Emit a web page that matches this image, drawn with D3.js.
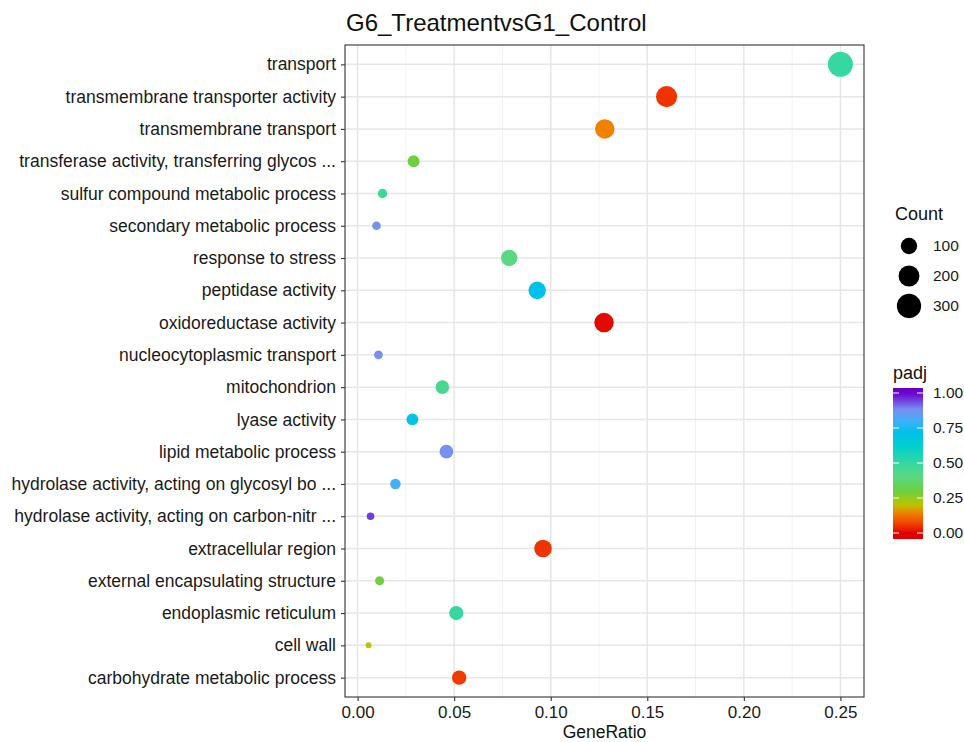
<!DOCTYPE html>
<html lang="en">
  <head>
    <meta charset="utf-8">
    <title>G6_TreatmentvsG1_Control</title>
    <script src="https://d3js.org/d3.v7.min.js"></script>
    <style>
      body { margin: 0; background: #fff; }
      text { font-family: "Liberation Sans", Arial, sans-serif; }
    </style>
  </head>
  <body>
    <script type="text/javascript">
    let w = 964;
    let h = 742;

    // DATA (top to bottom as drawn)
    let terms = ["transport", "transmembrane transporter activity", "transmembrane transport",
                 "transferase activity, transferring glycos ...", "sulfur compound metabolic process",
                 "secondary metabolic process", "response to stress", "peptidase activity",
                 "oxidoreductase activity", "nucleocytoplasmic transport", "mitochondrion",
                 "lyase activity", "lipid metabolic process",
                 "hydrolase activity, acting on glycosyl bo ...",
                 "hydrolase activity, acting on carbon-nitr ...", "extracellular region",
                 "external encapsulating structure", "endoplasmic reticulum", "cell wall",
                 "carbohydrate metabolic process"];
    let geneRatio = [0.250, 0.160, 0.128, 0.029, 0.0129, 0.0098, 0.0785, 0.093, 0.1276, 0.0108,
                     0.0439, 0.0284, 0.046, 0.0196, 0.0067, 0.096, 0.0114, 0.0511, 0.0057, 0.0526];
    let counts = [322, 206, 165, 37, 17, 13, 101, 120, 165, 14,
                  57, 37, 59, 25, 9, 124, 15, 66, 7, 68];
    let padj = [0.50, 0.05, 0.14, 0.30, 0.48, 0.88, 0.40, 0.72, 0.01, 0.88,
                0.45, 0.70, 0.88, 0.80, 0.95, 0.05, 0.30, 0.50, 0.20, 0.06];

    let xTicks = [0, 0.05, 0.10, 0.15, 0.20, 0.25];
    let countTicks = [100, 200, 300];
    let padjTicks = [0, 0.25, 0.5, 0.75, 1];

    // colour ramp for padj
    let rampStops = [0, 0.05, 0.14, 0.2, 0.3, 0.4, 0.5, 0.62, 0.72, 0.8, 0.88, 1];
    let rampColors = ["#e00000", "#f03400", "#f08000", "#bcc400", "#6cd040", "#5cd880", "#34d8a0",
                      "#00d0d0", "#00c0ec", "#40b0f8", "#7890f0", "#6a00d0"];

    let data = terms.map((t, i) => ({term: t, ratio: geneRatio[i], count: counts[i], padj: padj[i]}));

    let pLeft = 345, pRight = 864, pTop = 45, pBottom = 697;

    let svg = d3.select("body")
                .append("svg")
                .attr("width", w)
                .attr("height", h);

    // scales (5% expansion like ggplot)
    let xMin = d3.min(geneRatio), xMax = d3.max(geneRatio);
    let pad = (xMax - xMin) * 0.05;
    let xScale = d3.scaleLinear()
                   .domain([xMin - pad, xMax + pad])
                   .range([pLeft, pRight]);

    let yScale = d3.scalePoint()
                   .domain(terms)
                   .range([pTop, pBottom])
                   .padding(0.6);

    let cMin = d3.min(counts), cMax = d3.max(counts);
    let rScale = d3.scaleSqrt()
                   .domain([0, cMax - cMin])
                   .range([3, 12.5]);
    let r = c => rScale(c - cMin);

    let color = d3.scaleLinear()
                  .domain(rampStops)
                  .range(rampColors)
                  .interpolate(d3.interpolateRgb);

    // panel grid
    let grid = svg.append("g");
    let minor = d3.range(0.025, 0.26, 0.05);
    grid.selectAll(".minor")
        .data(minor)
        .enter()
        .append("line")
        .attr("x1", d => xScale(d)).attr("x2", d => xScale(d))
        .attr("y1", pTop).attr("y2", pBottom)
        .attr("stroke", "#f0f0f0")
        .attr("stroke-width", 0.9);
    grid.selectAll(".majx")
        .data(xTicks)
        .enter()
        .append("line")
        .attr("x1", d => xScale(d)).attr("x2", d => xScale(d))
        .attr("y1", pTop).attr("y2", pBottom)
        .attr("stroke", "#e6e6e6")
        .attr("stroke-width", 1.5);
    grid.selectAll(".majy")
        .data(terms)
        .enter()
        .append("line")
        .attr("x1", pLeft).attr("x2", pRight)
        .attr("y1", d => yScale(d)).attr("y2", d => yScale(d))
        .attr("stroke", "#e6e6e6")
        .attr("stroke-width", 1.5);

    // points, bigger ones drawn first
    svg.append("g")
       .selectAll("circle")
       .data(data.slice().sort((a, b) => b.count - a.count))
       .enter()
       .append("circle")
       .attr("cx", d => xScale(d.ratio))
       .attr("cy", d => yScale(d.term))
       .attr("r", d => r(d.count))
       .attr("fill", d => color(d.padj));

    svg.append("rect")
       .attr("x", pLeft).attr("y", pTop)
       .attr("width", pRight - pLeft).attr("height", pBottom - pTop)
       .attr("fill", "none")
       .attr("stroke", "#333")
       .attr("stroke-width", 1.1);

    // axes
    let xAxis = svg.append("g")
       .attr("transform", `translate(0,${pBottom})`)
       .call(d3.axisBottom(xScale).tickValues(xTicks).tickFormat(d3.format(".2f")).tickSize(4).tickPadding(5));
    let yAxis = svg.append("g")
       .attr("transform", `translate(${pLeft},0)`)
       .call(d3.axisLeft(yScale).tickSize(4).tickPadding(5));
    [xAxis, yAxis].forEach(a => {
      a.select(".domain").remove();
      a.selectAll(".tick line").attr("stroke", "#333").attr("stroke-width", 1.1);
      a.selectAll("text").attr("fill", "#1a1a1a").style("font-size", "17.5px");
    });
    xAxis.selectAll("text").style("font-size", "17px");

    svg.append("text")
       .attr("x", (pLeft + pRight) / 2)
       .attr("y", 738)
       .attr("text-anchor", "middle")
       .style("font-size", "17.5px")
       .attr("fill", "#111")
       .text("GeneRatio");

    svg.append("text")
       .attr("x", pLeft + 1)
       .attr("y", 31)
       .style("font-size", "24px")
       .attr("fill", "#111")
       .text("G6_TreatmentvsG1_Control");

    // Count legend
    let lg = svg.append("g");
    lg.append("text").attr("x", 895).attr("y", 220)
      .style("font-size", "18px").attr("fill", "#111").text("Count");
    let legY = d3.scalePoint().domain(countTicks).range([246, 306]);
    lg.selectAll("circle")
      .data(countTicks)
      .enter()
      .append("circle")
      .attr("cx", 909)
      .attr("cy", d => legY(d))
      .attr("r", d => r(d))
      .attr("fill", "#000");
    lg.selectAll(".lab")
      .data(countTicks)
      .enter()
      .append("text")
      .attr("x", 933)
      .attr("y", d => legY(d))
      .attr("dy", "0.35em")
      .style("font-size", "15.5px")
      .attr("fill", "#1a1a1a")
      .text(d => d);

    // padj colourbar
    let pScale = d3.scaleLinear().domain([0, 1]).range([533, 393]);
    let defs = svg.append("defs");
    let grad = defs.append("linearGradient")
                   .attr("id", "padjGrad")
                   .attr("x1", "0").attr("y1", "1").attr("x2", "0").attr("y2", "0");
    let barTop = 388, barBot = 539;
    let vTop = pScale.invert(barTop), vBot = pScale.invert(barBot);
    d3.range(0, 1.0001, 0.02).forEach(t => {
      let v = vBot + (vTop - vBot) * t;
      grad.append("stop")
          .attr("offset", t)
          .attr("stop-color", color(Math.max(0, Math.min(1, v))));
    });
    svg.append("text").attr("x", 893).attr("y", 379)
       .style("font-size", "18px").attr("fill", "#111").text("padj");
    svg.append("rect")
       .attr("x", 893).attr("y", barTop)
       .attr("width", 30).attr("height", barBot - barTop)
       .attr("fill", "url(#padjGrad)");
    let cb = svg.append("g");
    padjTicks.forEach(v => {
      cb.append("line").attr("x1", 893).attr("x2", 899)
        .attr("y1", pScale(v)).attr("y2", pScale(v))
        .attr("stroke", "#fff").attr("stroke-width", 1);
      cb.append("line").attr("x1", 917).attr("x2", 923)
        .attr("y1", pScale(v)).attr("y2", pScale(v))
        .attr("stroke", "#fff").attr("stroke-width", 1);
    });
    cb.selectAll("text")
      .data(padjTicks)
      .enter()
      .append("text")
      .attr("x", 933)
      .attr("y", d => pScale(d))
      .attr("dy", "0.35em")
      .style("font-size", "15.5px")
      .attr("fill", "#1a1a1a")
      .text(d => d3.format(".2f")(d));
    </script>
  </body>
</html>
